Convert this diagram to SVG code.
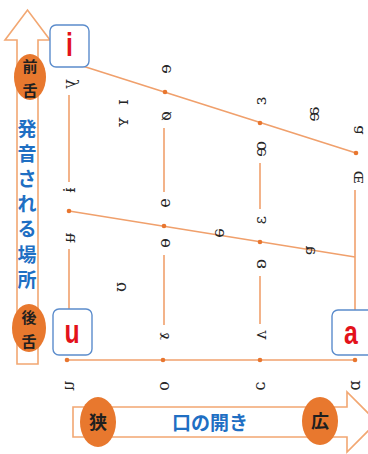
<svg xmlns="http://www.w3.org/2000/svg" width="368" height="454" viewBox="0 0 368 454">
<defs>
<style>
.arrow{fill:#ffffff;stroke:#f2a772;stroke-width:1.6;}
.badge{fill:#e8782e;}
.btxt{font-family:"Noto Sans CJK JP","Noto Sans CJK SC",sans-serif;font-weight:700;fill:#1f1f1f;text-anchor:middle;dominant-baseline:central;}
.blue{font-family:"Noto Sans CJK JP","Noto Sans CJK SC",sans-serif;font-weight:700;fill:#1f6fc3;text-anchor:middle;dominant-baseline:central;}
.box{fill:#ffffff;stroke:#5b8ccc;stroke-width:1.4;}
.red{font-family:"Liberation Sans",Arial,sans-serif;font-weight:700;fill:#e3121b;text-anchor:middle;dominant-baseline:central;font-size:33px;}
.ln{stroke:#f0a06c;stroke-width:1.6;fill:none;}
.dot{fill:#e8762f;}
.v{font-family:"DejaVu Serif","Liberation Serif",serif;font-size:16px;fill:#262626;text-anchor:middle;dominant-baseline:central;}
</style>
</defs>
<rect width="368" height="454" fill="#ffffff"/>

<g id="arrow-vertical">
<path class="arrow" d="M17,364 L17,40 L5,40 L27.5,10 L50,40 L38,40 L38,364 Z"/>
</g>
<g id="arrow-horizontal">
<path class="arrow" d="M73,407 L347,407 L347,392 L377,422 L347,452 L347,437 L73,437 Z"/>
</g>

<g id="connectors">
<line class="ln" x1="70" y1="62" x2="356" y2="153"/>
<line class="ln" x1="69" y1="211" x2="355" y2="257"/>
<line class="ln" x1="67" y1="360" x2="355" y2="360"/>
<line class="ln" x1="69" y1="95" x2="69" y2="182"/>
<line class="ln" x1="69" y1="249" x2="69" y2="312"/>
<line class="ln" x1="164" y1="128" x2="164" y2="192"/>
<line class="ln" x1="164" y1="255" x2="164" y2="325"/>
<line class="ln" x1="260" y1="163" x2="260" y2="209"/>
<line class="ln" x1="260" y1="276" x2="260" y2="324"/>
<line class="ln" x1="355" y1="190" x2="355" y2="312"/>
<circle class="dot" cx="165" cy="92" r="2.3"/>
<circle class="dot" cx="260" cy="123" r="2.3"/>
<circle class="dot" cx="356" cy="153" r="2.3"/>
<circle class="dot" cx="69" cy="211" r="2.3"/>
<circle class="dot" cx="164" cy="226" r="2.3"/>
<circle class="dot" cx="260" cy="242" r="2.3"/>
<circle class="dot" cx="67" cy="360" r="2.3"/>
<circle class="dot" cx="163" cy="360" r="2.3"/>
<circle class="dot" cx="260" cy="360" r="2.3"/>
<circle class="dot" cx="355" cy="360" r="2.3"/>
</g>

<g id="vowels">
<text class="v" transform="matrix(0 1 1 0 69 84)">y</text>
<text class="v" transform="matrix(0 1 1 0 122 102)">ɪ</text>
<text class="v" transform="matrix(0 1 1 0 122 122)">ʏ</text>
<text class="v" transform="matrix(0 1 1 0 69 190)">ɨ</text>
<text class="v" transform="matrix(0 1 1 0 69 238)">ʉ</text>
<text class="v" transform="matrix(0 1 1 0 120 287)">ʊ</text>
<text class="v" transform="matrix(0 1 1 0 68 386)">u</text>
<text class="v" transform="matrix(0 1 1 0 165 69)">e</text>
<text class="v" transform="matrix(0 1 1 0 165 116)">ø</text>
<text class="v" transform="matrix(0 1 1 0 164 203)">ɘ</text>
<text class="v" transform="matrix(0 1 1 0 164 243)">ɵ</text>
<text class="v" transform="matrix(0 1 1 0 218 233)">ə</text>
<text class="v" transform="matrix(0 1 1 0 163 336)">ɤ</text>
<text class="v" transform="matrix(0 1 1 0 163 386)">o</text>
<text class="v" transform="matrix(0 1 1 0 260 101)">ɛ</text>
<text class="v" transform="matrix(0 1 1 0 260 149)">œ</text>
<text class="v" transform="matrix(0 1 1 0 260 220)">ɜ</text>
<text class="v" transform="matrix(0 1 1 0 260 264)">ɞ</text>
<text class="v" transform="matrix(0 1 1 0 260 335)">ʌ</text>
<text class="v" transform="matrix(0 1 1 0 259 386)">ɔ</text>
<text class="v" transform="matrix(0 1 1 0 313 114)">æ</text>
<text class="v" transform="matrix(0 1 1 0 309 250)">ɐ</text>
<text class="v" transform="matrix(0 1 1 0 357 130)">a</text>
<text class="v" transform="matrix(0 1 1 0 357 177)">ɶ</text>
<text class="v" transform="matrix(0 1 1 0 354 385)">ɒ</text>
</g>

<g id="badge-front">
<ellipse class="badge" cx="30" cy="77" rx="16" ry="23"/>
<text class="btxt" font-size="15"><tspan x="30" y="65">前</tspan><tspan x="30" y="89">舌</tspan></text>
</g>
<g id="badge-back">
<ellipse class="badge" cx="29" cy="328" rx="17" ry="24"/>
<text class="btxt" font-size="15"><tspan x="29" y="316">後</tspan><tspan x="29" y="340">舌</tspan></text>
</g>
<g id="label-place">
<text class="blue" font-size="19"><tspan x="27" y="127">発</tspan><tspan x="27" y="152">音</tspan><tspan x="27" y="177">さ</tspan><tspan x="27" y="202">れ</tspan><tspan x="27" y="227">る</tspan><tspan x="27" y="253">場</tspan><tspan x="27" y="278">所</tspan></text>
</g>

<g id="badge-narrow">
<ellipse class="badge" cx="98" cy="422" rx="18" ry="25"/>
<text class="btxt" font-size="18" x="98" y="421">狭</text>
</g>
<g id="badge-wide">
<ellipse class="badge" cx="320" cy="421" rx="18" ry="24"/>
<text class="btxt" font-size="18" x="320" y="420">広</text>
</g>
<g id="label-open">
<text class="blue" font-size="19" x="210" y="421">口の開き</text>
</g>

<g id="box-i">
<rect class="box" x="50" y="25" width="39" height="42" rx="6"/>
<text class="red" transform="translate(69.5 45) scale(0.75 1)">i</text>
</g>
<g id="box-u">
<rect class="box" x="53" y="309" width="39" height="46" rx="6"/>
<text class="red" transform="translate(72 332) scale(0.75 1)">u</text>
</g>
<g id="box-a">
<rect class="box" x="332" y="310" width="42" height="45" rx="6"/>
<text class="red" transform="translate(351 333) scale(0.75 1)">a</text>
</g>
</svg>
